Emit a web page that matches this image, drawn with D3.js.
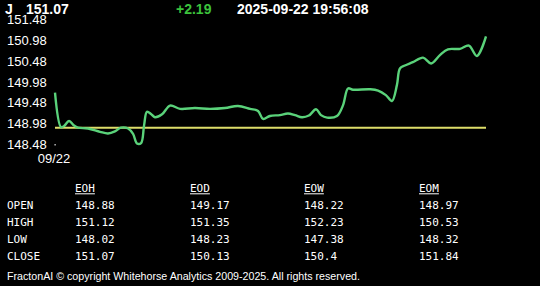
<!DOCTYPE html>
<html>
<head>
<meta charset="utf-8">
<script src="https://cdn.jsdelivr.net/npm/d3@7"></script>
<style>
  html, body { margin: 0; padding: 0; background: #000; }
  svg { display: block; }
</style>
</head>
<body>
<div id="chart"></div>
<script>
// header
var symbol = "J";
var lastPrice = "151.07";
var change = "+2.19";
var stamp = "2025-09-22 19:56:08";

// price line, hours since 00:00 on 09/22
var hours = [0.00, 0.28, 0.42, 0.65, 0.88, 1.06, 1.53, 2.08, 2.45, 2.77,
             3.05, 3.38, 3.61, 3.79, 3.98, 4.12, 4.25, 4.44, 4.62, 4.95,
             5.32, 5.78, 6.47, 7.17, 7.86, 8.46, 9.02, 9.39, 9.62, 9.94,
             10.40, 10.77, 11.10, 11.42, 11.74, 12.07, 12.30, 12.58, 13.04, 13.32,
             13.55, 13.78, 14.57, 14.94, 15.30, 15.58, 15.81, 15.95, 16.18, 16.55,
             17.02, 17.39, 17.80, 18.17, 18.73, 19.14, 19.51, 19.93];
var prices = [149.72, 148.89, 148.92, 149.04, 148.93, 148.88, 148.86, 148.78, 148.74, 148.79,
              148.88, 148.86, 148.73, 148.50, 148.51, 148.94, 149.26, 149.21, 149.13, 149.20,
              149.41, 149.33, 149.35, 149.33, 149.35, 149.40, 149.33, 149.28, 149.09, 149.16,
              149.18, 149.22, 149.18, 149.13, 149.17, 149.32, 149.18, 149.12, 149.16, 149.42,
              149.82, 149.79, 149.80, 149.77, 149.66, 149.52, 149.90, 150.30, 150.37, 150.45,
              150.56, 150.42, 150.62, 150.76, 150.77, 150.85, 150.60, 151.07];
var openLevel = 148.88;

var yTicks = [148.48, 148.98, 149.48, 149.98, 150.48, 150.98, 151.48];
var xLabel = "09/22";

// table
var periods = ["EOH", "EOD", "EOW", "EOM"];
var rowNames = ["OPEN", "HIGH", "LOW", "CLOSE"];
var tableValues = [
  ["148.88", "149.17", "148.22", "148.97"],
  ["151.12", "151.35", "152.23", "150.53"],
  ["148.02", "148.23", "147.38", "148.32"],
  ["151.07", "150.13", "150.4", "151.84"]
];
var footer = "FractonAI \u00a9 copyright Whitehorse Analytics 2009-2025. All rights reserved.";

var width = 540, height = 286;
var svg = d3.select("#chart").append("svg")
  .attr("width", width)
  .attr("height", height)
  .style("background", "#000");

var x = d3.scaleLinear().domain([0, 19.93]).range([55, 486]);
var y = d3.scaleLinear().domain([148.48, 151.48]).range([144.3, 19.3]);

// y labels
svg.append("g").selectAll("text")
  .data(yTicks)
  .enter().append("text")
  .attr("x", 7)
  .attr("y", d => y(d) + 4.7)
  .attr("fill", "#fff")
  .style("font", "13px 'Liberation Sans', Arial, sans-serif")
  .text(d => d.toFixed(2));

// x tick + label
svg.append("rect")
  .attr("x", x(0) - 0.5).attr("y", 144)
  .attr("width", 1.2).attr("height", 1.5)
  .attr("fill", "#ddd");
svg.append("text")
  .attr("x", x(0) - 1)
  .attr("y", 162.5)
  .attr("text-anchor", "middle")
  .attr("fill", "#fff")
  .style("font", "13px 'Liberation Sans', Arial, sans-serif")
  .text(xLabel);

// open level
svg.append("line")
  .attr("x1", x(0)).attr("x2", x(19.93))
  .attr("y1", y(openLevel)).attr("y2", y(openLevel))
  .attr("stroke", "#dede6a")
  .attr("stroke-width", 2);

// price line
var line = d3.line()
  .x((d, i) => x(hours[i]))
  .y(d => y(d))
  .curve(d3.curveCatmullRom.alpha(0.5));

svg.append("path")
  .attr("d", line(prices))
  .attr("fill", "none")
  .attr("stroke", "#5ad27a")
  .attr("stroke-width", 2.4)
  .attr("stroke-linejoin", "round");

// header
var hfont = "bold 14px 'Liberation Sans', Arial, sans-serif";
svg.append("text").attr("x", 5).attr("y", 14).attr("fill", "#fff").style("font", hfont).text(symbol);
svg.append("text").attr("x", 26).attr("y", 14).attr("fill", "#fff").style("font", hfont).text(lastPrice);
svg.append("text").attr("x", 176).attr("y", 14).attr("fill", "#3cc23c").style("font", hfont).text(change);
svg.append("text").attr("x", 237).attr("y", 14).attr("fill", "#fff").style("font", hfont).text(stamp);

// table
var tfont = "11px 'DejaVu Sans Mono', monospace";
var colX = [75, 190, 304, 419];
var rowY = [209, 225.9, 242.8, 259.7];

periods.forEach((p, i) => {
  var t = svg.append("text")
    .attr("x", colX[i]).attr("y", 191.8)
    .attr("fill", "#fff")
    .style("font", tfont)
    .text(p);
  var w = t.node().getComputedTextLength();
  svg.append("line")
    .attr("x1", colX[i]).attr("x2", colX[i] + w)
    .attr("y1", 193.8).attr("y2", 193.8)
    .attr("stroke", "#fff").attr("stroke-width", 1);
});

rowNames.forEach((r, j) => {
  svg.append("text")
    .attr("x", 7).attr("y", rowY[j])
    .attr("fill", "#fff")
    .style("font", tfont)
    .text(r);
  tableValues[j].forEach((v, i) => {
    svg.append("text")
      .attr("x", colX[i]).attr("y", rowY[j])
      .attr("fill", "#fff")
      .style("font", tfont)
      .text(v);
  });
});

svg.append("text")
  .attr("x", 7).attr("y", 279.5)
  .attr("fill", "#fff")
  .attr("textLength", 353)
  .attr("lengthAdjust", "spacingAndGlyphs")
  .style("font", "11px 'Liberation Sans', Arial, sans-serif")
  .text(footer);
</script>
</body>
</html>
